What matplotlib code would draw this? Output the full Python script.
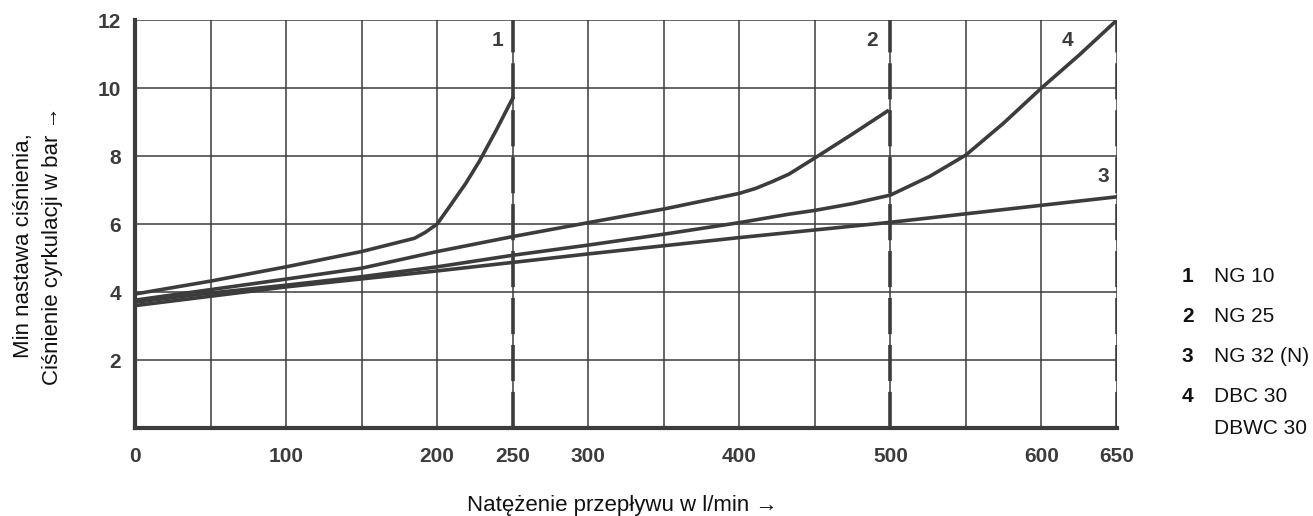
import numpy as np
import matplotlib
matplotlib.use("Agg")
import matplotlib.pyplot as plt

plt.rcParams['font.family'] = ['Liberation Sans', 'DejaVu Sans']

x1 = [0, 50, 100, 150, 185, 192, 200, 208, 219, 228, 239, 250]
y1 = [3.94, 4.32, 4.74, 5.19, 5.58, 5.75, 6.0, 6.5, 7.2, 7.85, 8.75, 9.7]

x2 = [0, 100, 150, 200, 250, 300, 350, 400, 411, 422, 433, 451, 475, 498]
y2 = [3.76, 4.38, 4.7, 5.19, 5.63, 6.04, 6.44, 6.9, 7.05, 7.25, 7.47, 7.97, 8.65, 9.32]

x3 = [0, 100, 200, 300, 400, 500, 600, 650]
y3 = [3.6, 4.15, 4.62, 5.12, 5.6, 6.05, 6.55, 6.8]

x4 = [0, 50, 100, 150, 200, 250, 300, 350, 400, 433, 450, 475, 500, 526, 550, 575, 600, 625, 650]
y4 = [3.7, 3.97, 4.2, 4.45, 4.74, 5.08, 5.38, 5.7, 6.04, 6.29, 6.4, 6.6, 6.85, 7.4, 8.03, 8.97, 10.0, 10.97, 12.0]

limits = [250, 500, 650]
curve_labels = ['1', '2', '4', '3']
curve_label_pos = [(240, 11.4), (488, 11.4), (617, 11.4), (641, 7.4)]

xticks = list(range(0, 651, 50))
xlabels_shown = [0, 100, 200, 250, 300, 400, 500, 600, 650]
yticks = [2, 4, 6, 8, 10, 12]

legend_nums = ['1', '2', '3', '4', '']
legend_texts = ['NG 10', 'NG 25', 'NG 32 (N)', 'DBC 30', 'DBWC 30']

dark = '#3c3c3c'

fig = plt.figure(figsize=(13.13, 5.16), dpi=100)
ax = fig.add_axes([135/1313, 1-428/516, (1117-135)/1313, (428-20)/516])

ax.set_xlim(0, 650)
ax.set_ylim(0, 12)

ax.set_xticks(xticks)
ax.set_xticklabels([str(v) if v in xlabels_shown else '' for v in xticks])
ax.set_yticks(yticks)
ax.tick_params(length=0, labelsize=15, labelcolor=dark)
ax.tick_params(axis='x', pad=14)
ax.tick_params(axis='y', pad=10)
for lab in ax.get_xticklabels() + ax.get_yticklabels():
    lab.set_fontweight('bold')

ax.grid(True, color=dark, linewidth=1.1)
ax.set_axisbelow(True)

for s in ['top', 'right']:
    ax.spines[s].set_visible(False)
for s in ['left', 'bottom']:
    ax.spines[s].set_linewidth(3.0)
    ax.spines[s].set_color(dark)

for xl in limits:
    ax.plot([xl, xl], [0, 12], color=dark, linewidth=2.6,
            linestyle=(0, (10, 3)), zorder=3)

for xs, ys in [(x1, y1), (x2, y2), (x3, y3), (x4, y4)]:
    ax.plot(xs, ys, color=dark, linewidth=2.6, solid_joinstyle='round', zorder=4)

for lab, (px, py) in zip(curve_labels, curve_label_pos):
    ax.text(px, py, lab, fontsize=15, fontweight='bold', color=dark,
            ha='center', va='center')

fig.text(622/1313, 1-505/516, 'Natężenie przepływu w l/min →',
         fontsize=16, ha='center', va='center', color='#111111')
fig.text(38/1313, 1-246/516, 'Min nastawa ciśnienia,\nCiśnienie cyrkulacji w bar →',
         fontsize=16, rotation=90, ha='center', va='center',
         multialignment='center', color='#111111', linespacing=1.45)

leg_y = [277, 317, 357, 397, 429]
for num, txt, py in zip(legend_nums, legend_texts, leg_y):
    if num:
        fig.text(1182/1313, 1-py/516, num, fontsize=15, fontweight='bold',
                 ha='left', va='center', color='#111111')
    fig.text(1214/1313, 1-py/516, txt, fontsize=15, ha='left',
             va='center', color='#111111')

fig.savefig('out.png', dpi=100)
